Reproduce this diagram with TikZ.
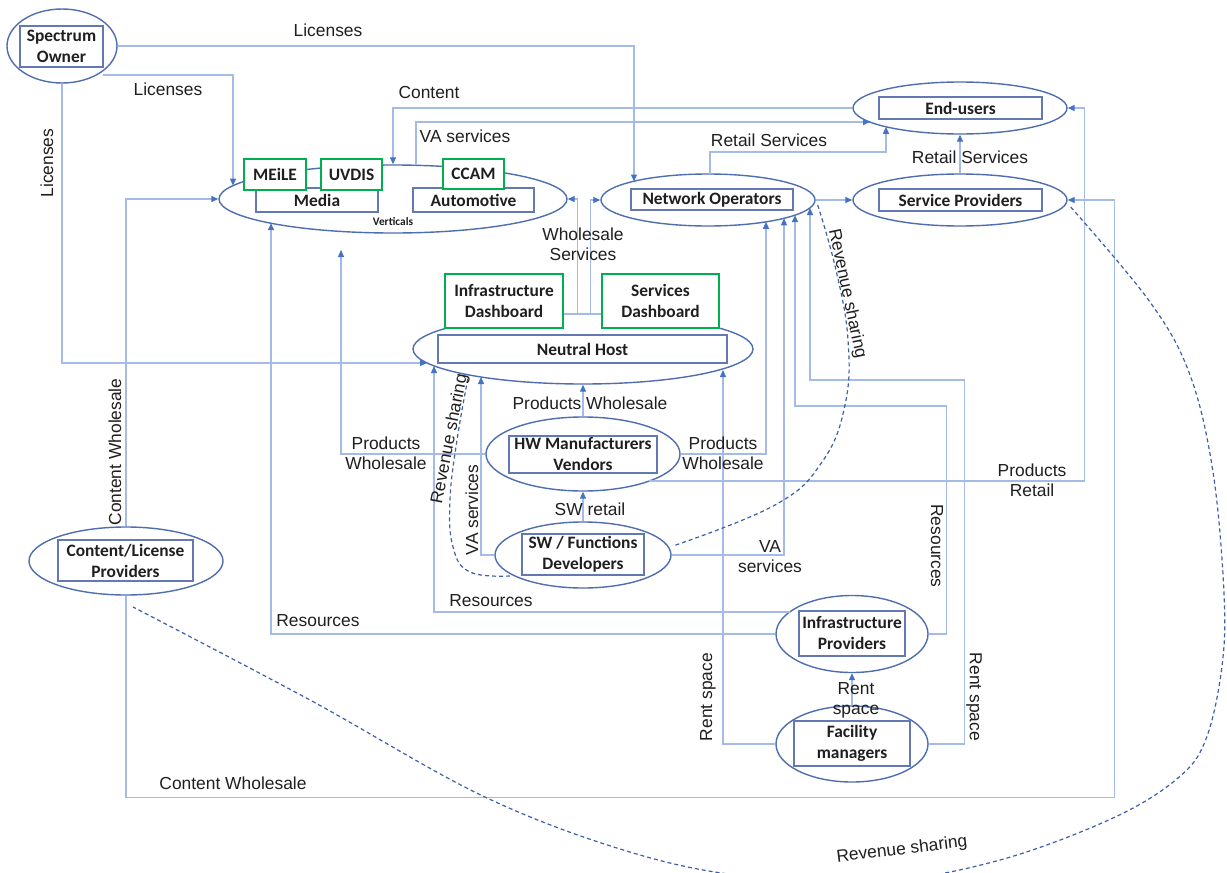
\documentclass[tikz,border=0pt]{standalone}
\usepackage{fontspec}
\setmainfont{Liberation Sans}
\newfontfamily\boxfont{Carlito}
\usetikzlibrary{arrows.meta,shapes.geometric,calc}
\definecolor{ellcol}{HTML}{4F6EB0}
\definecolor{boxcol}{HTML}{6478B4}
\definecolor{linecol}{HTML}{A3BBE6}
\definecolor{tipcol}{HTML}{4472C4}
\definecolor{dashcol}{HTML}{3F5FA8}
\definecolor{greencol}{HTML}{00B050}
\definecolor{txtcol}{HTML}{1F1F1F}
\begin{document}
\begin{tikzpicture}[x=1pt,y=-1pt,
  actor/.style={ellipse, draw=ellcol, line width=1.4pt, fill=white, inner sep=0pt},
  namebox/.style={draw=boxcol, line width=1.5pt, fill=white, inner sep=0pt,
    font=\boxfont\bfseries\fontsize{17.4}{21}\selectfont, align=center, text=txtcol},
  toolbox/.style={namebox, draw=greencol, line width=2.8pt},
  conn/.style={draw=linecol, line width=1.3pt},
  arr/.style={conn, -{Triangle[length=7pt,width=6pt,color=tipcol]}},
  rev/.style={draw=dashcol, line width=1.2pt, dash pattern=on 4pt off 3pt},
  lbl/.style={font=\fontsize{17.4}{20}\selectfont, text=txtcol, align=center, inner sep=0pt},
]
\fill[white] (0,0) rectangle (1227,873);
\clip (0,0) rectangle (1227,873);

% ---------- actors ----------
\node[actor, minimum width=110pt, minimum height=74pt] (SO) at (62,46) {};
\node[namebox, minimum width=83pt, minimum height=41pt] (SObox) at (61.5,46.5) {Spectrum\\Owner};

\node[actor, minimum width=348pt, minimum height=68pt] (Vert) at (393,199) {};
\node[namebox, minimum width=122pt, minimum height=24pt] (Media) at (317,200) {Media};
\node[namebox, minimum width=121pt, minimum height=24pt] (Auto) at (473.5,200) {Automotive};
\node[toolbox, minimum width=62pt, minimum height=31pt] (MEiLE) at (275,174.5) {MEiLE};
\node[toolbox, minimum width=61pt, minimum height=31pt] (UVDIS) at (351.5,174.5) {UVDIS};
\node[toolbox, minimum width=61pt, minimum height=30pt] (CCAM) at (473.5,174) {CCAM};
\node[font=\boxfont\bfseries\fontsize{11.4}{13}\selectfont, text=txtcol, inner sep=0pt] (VertLbl) at (393,222) {Verticals};

\node[actor, minimum width=214pt, minimum height=52pt] (NO) at (708,200) {};
\node[namebox, minimum width=162pt, minimum height=21pt] (NObox) at (712,199.5) {Network Operators};

\node[actor, minimum width=214pt, minimum height=52pt] (SP) at (960,200) {};
\node[namebox, minimum width=163pt, minimum height=22pt] (SPbox) at (960.5,200) {Service Providers};

\node[actor, minimum width=214pt, minimum height=52pt] (EU) at (960,108) {};
\node[namebox, minimum width=163pt, minimum height=22pt] (EUbox) at (960.5,108) {End-users};

\node[actor, minimum width=340pt, minimum height=70pt] (NH) at (583,349) {};
\node[namebox, minimum width=289pt, minimum height=28pt] (NHbox) at (582.5,349) {Neutral Host};
\node[toolbox, minimum width=118pt, minimum height=54pt] (IDash) at (504,301) {Infrastructure\\Dashboard};
\node[toolbox, minimum width=117pt, minimum height=54pt] (SDash) at (660.5,301) {Services\\Dashboard};

\node[actor, minimum width=194pt, minimum height=74pt] (HW) at (583,454) {};
\node[namebox, minimum width=148pt, minimum height=37pt] (HWbox) at (583,454.5) {HW Manufacturers\\Vendors};

\node[actor, minimum width=176pt, minimum height=66pt] (SW) at (583,555) {};
\node[namebox, minimum width=122pt, minimum height=41pt] (SWbox) at (583,554.5) {SW / Functions\\Developers};

\node[actor, minimum width=194pt, minimum height=68pt] (CL) at (126,561) {};
\node[namebox, minimum width=135pt, minimum height=41pt] (CLbox) at (125.5,560.5) {Content/License\\Providers};

\node[actor, minimum width=152pt, minimum height=77pt] (IP) at (852,634) {};
\node[namebox, minimum width=106pt, minimum height=45pt] (IPbox) at (852,633.5) {Infrastructure\\Providers};

\node[actor, minimum width=152pt, minimum height=76pt] (FM) at (852,744) {};
\node[namebox, minimum width=116pt, minimum height=45pt] (FMbox) at (852,743.5) {Facility\\managers};

\coordinate (pwlEnd) at (341,250);

% ---------- connectors ----------
% licences from the spectrum owner
\draw[arr] (SO.east) -| ($(NO.center)+(-74,-18.5)$);
\draw[arr] ($(SO.center)+(41,29)$) -| ($(Vert.center)+(-160,-13.4)$);
\draw[arr] (SO.south) |- ($(NH.center)+(-156,14)$);
% content and services towards end-users
\draw[arr] (EU.west) -| (Vert.north);
\draw[arr] ($(Vert.center)+(23,-33.7)$) |- ($(EU.center)+(-90,14)$);
\draw[arr] ($(NO.center)+(2,-26)$) -- ++(0,-22) -| ($(EU.center)+(-74,18.8)$);
\draw[arr] (SP.north) -- (EU.south);
\draw[arr] (NO.east) -- (SP.west);
% wholesale services from the dashboards
\draw[conn] ($(IDash.east)+(0,13)$) -- ($(SDash.west)+(0,13)$);
\draw[arr] ($(IDash.east)+(13,13)$) |- (Vert.east);
\draw[arr] ($(SDash.west)+(-10,13)$) |- (NO.west);
% hardware and software vendors
\draw[arr] (HW.north) -- (NH.south);
\draw[arr] (SW.north) -- (HW.south);
\draw[arr] (HW.west) -| (pwlEnd);
\draw[arr] (HW.east) -| ($(NO.center)+(58,21.8)$);
\draw[arr] ($(HW.center)+(66,27)$) -| ($(EU.east)+(17,0)$) -- (EU.east);
\draw[arr] (SW.west) -| ($(NH.center)+(-102,28)$);
\draw[arr] (SW.east) -| ($(NO.center)+(76,18.3)$);
% infrastructure and facilities
\draw[arr] (IP.east) -- ++(18,0) -- ++(0,-228) -| ($(NO.center)+(87,15.1)$);
\draw[arr] (FM.east) -- ++(36,0) -- ++(0,-364) -| ($(NO.center)+(102,8)$);
\draw[arr] (FM.west) -| ($(NH.center)+(140,21)$);
\draw[arr] ($(IP.center)+(-62,-22)$) -| ($(NH.center)+(-149,17)$);
\draw[arr] (IP.west) -| ($(Vert.center)+(-122,24.2)$);
\draw[arr] (FM.north) -- (IP.south);
% content wholesale
\draw[arr] (CL.north) |- (Vert.west);
\draw[arr] (CL.south) -- ++(0,202) -| ($(SP.east)+(47,0)$) -- (SP.east);

% revenue sharing (dashed)
\draw[rev] plot[smooth, tension=0.7] coordinates {($(NO.east)+(2,5)$) (836,270) (848,340) (845,405) (822,462) (775,505) ($(SW.center)+(90,-9)$)};
\draw[rev] plot[smooth, tension=0.7] coordinates {($(SW.center)+(-73,21)$) (470,572) (453,547) (450,500) (457,440) ($(NH.center)+(-115,29)$)};
\draw[rev] plot[smooth, tension=0.6] coordinates {($(SP.east)+(3,7)$) (1150,302) (1190,375) (1213,472) (1224,593) (1222,666) (1206,739) (1178,778) (1113,818) (1000,860) (880,882) (760,878) (640,855) (487,798) (310,700) ($(CL.center)+(7,46)$)};

% ---------- labels ----------
\node[lbl] at (328,30) {Licenses};
\node[lbl] at (168,89) {Licenses};
\node[lbl, rotate=90] at (47,163) {Licenses};
\node[lbl] at (429,93) {Content};
\node[lbl] at (465,136) {VA services};
\node[lbl] at (769,140) {Retail Services};
\node[lbl] at (970,157) {Retail Services};
\node[lbl] at (583,244) {Wholesale\\Services};
\node[lbl] at (590,403) {Products Wholesale};
\node[lbl] at (590,509) {SW retail};
\node[lbl] at (386,453) {Products\\Wholesale};
\node[lbl] at (723,453) {Products\\Wholesale};
\node[lbl] at (1032,480) {Products\\Retail};
\node[lbl] at (770,557) {VA\\services};
\node[lbl, rotate=90] at (472,510) {VA services};
\node[lbl, rotate=79] at (450,439) {Revenue sharing};
\node[lbl, rotate=-78] at (847,294) {Revenue sharing};
\node[lbl] at (491,601) {Resources};
\node[lbl] at (318,621) {Resources};
\node[lbl, rotate=-90] at (937,546) {Resources};
\node[lbl, rotate=90] at (708,697) {Rent space};
\node[lbl, rotate=-90] at (974,697) {Rent space};
\node[lbl] at (856,700) {Rent\\space};
\node[lbl, rotate=90] at (115,452) {Content Wholesale};
\node[lbl] at (233,783) {Content Wholesale};
\node[lbl, rotate=7] at (902,850) {Revenue sharing};
\end{tikzpicture}
\end{document}
